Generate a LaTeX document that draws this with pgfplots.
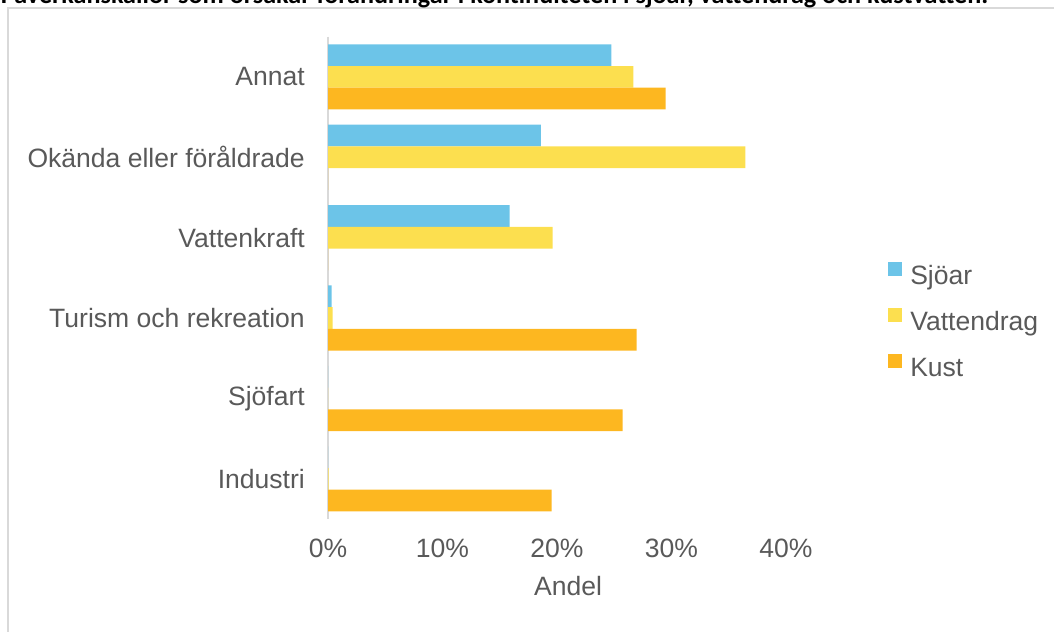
\documentclass[border=0pt]{standalone}
\usepackage{pgfplots}
\pgfplotsset{compat=1.18}
\usepackage{fontspec}
\setmainfont{Liberation Sans}
\newfontfamily\titlefont{Carlito}
\definecolor{sjo}{RGB}{108,196,232}
\definecolor{vat}{RGB}{252,223,79}
\definecolor{kust}{RGB}{253,183,32}
\definecolor{txt}{RGB}{89,89,89}
\definecolor{frm}{RGB}{217,217,217}
\begin{document}
\begin{tikzpicture}
\clip (0pt,0pt) rectangle (790.5pt,-474pt);
\draw[frm, line width=0.9pt] (6pt,-6pt) rectangle (800pt,-490pt);
\node[anchor=base west, inner sep=0pt, font=\titlefont\bfseries\fontsize{19.6}{22}\selectfont] at (0.5pt,-2.8pt) {Påverkanskällor som orsakar förändringar i kontinuiteten i sjöar, vattendrag och kustvatten.};
\begin{axis}[
  at={(246pt,-389.3pt)}, anchor=south west,
  scale only axis, width=343.5pt, height=361.8pt,
  xbar=0pt, bar width=16.3pt,
  xmin=0, xmax=40, ymin=-0.5, ymax=5.5, y dir=reverse,
  xtick={0,10,20,30,40}, xticklabels={0\%,10\%,20\%,30\%,40\%},
  ytick={0,1,2,3,4,5},
  yticklabels={Annat,Okända eller föråldrade,Vattenkraft,Turism och rekreation,Sjöfart,Industri},
  major tick length=0pt,
  axis x line*=bottom, axis y line*=left,
  x axis line style={draw=none},
  y axis line style={draw=frm, line width=1.2pt, -},
  ticklabel style={font=\fontsize{19.9}{24}\selectfont, text=txt},
  yticklabel style={inner sep=0pt, xshift=-17.2pt},
  xticklabel style={inner sep=0pt, yshift=-14.6pt},
  xlabel={Andel},
  xlabel style={font=\fontsize{19.9}{24}\selectfont, text=txt, inner sep=0pt, at={(axis description cs:0.524,0)}, anchor=north, yshift=-43pt},
  legend cell align=left,
  legend image code/.code={\fill[#1,draw=none] (0pt,1pt) rectangle (10.5pt,11.5pt);},
  legend style={at={(axis description cs:1.2227,0.408)}, anchor=west, draw=none, fill=none, inner sep=0pt,
    font=\fontsize{19.9}{24}\selectfont, text=txt, row sep=13.8pt, column sep=6pt,
    nodes={inner sep=0pt, text height=14.5pt, text depth=4pt}},
  clip=false,
]
\addplot[fill=sjo, draw=none, bar shift=16.3pt] coordinates {(24.75,0) (18.60,1) (15.87,2) (0.32,3) (0,4) (0,5)};
\addplot[fill=vat, draw=none, bar shift=0pt] coordinates {(26.67,0) (36.45,1) (19.62,2) (0.41,3) (0,4) (0.05,5)};
\addplot[fill=kust, draw=none, bar shift=-16.3pt] coordinates {(29.49,0) (0,1) (0,2) (26.96,3) (25.74,4) (19.54,5)};
\legend{Sjöar,Vattendrag,Kust}
\end{axis}
\end{tikzpicture}
\end{document}
